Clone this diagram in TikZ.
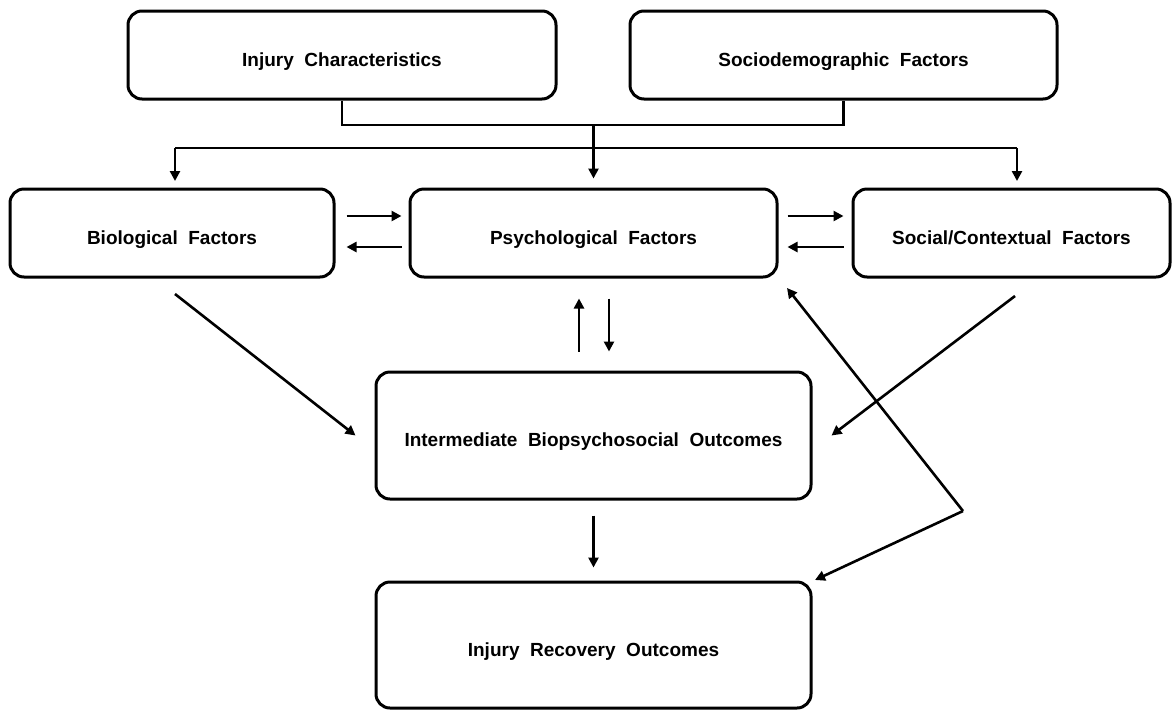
\documentclass[tikz,border=0pt]{standalone}
\usepackage{fontspec}
\setmainfont{Liberation Sans}[WordSpace=2]
\usetikzlibrary{arrows.meta}
\begin{document}
\begin{tikzpicture}[x=1pt,y=-1pt,
  box/.style={draw,line width=3pt,rounded corners=14pt,inner sep=0pt,
    text height=22.6pt,text depth=0pt,
    font=\fontsize{19}{22}\selectfont\bfseries},
  conn/.style={line width=2.6pt},
  arr/.style={conn,-{Triangle[length=10pt,width=10pt]}}]
\useasboundingbox (0,0) rectangle (1172,710);

% factor boxes
\node[box,minimum width=428pt,minimum height=88pt] (ic) at (342,55) {Injury Characteristics};
\node[box,minimum width=427pt,minimum height=88pt] (sf) at (843.5,55) {Sociodemographic Factors};
\node[box,minimum width=324pt,minimum height=88pt] (bio) at (172,233) {Biological Factors};
\node[box,minimum width=367pt,minimum height=88pt] (psy) at (593.5,233) {Psychological Factors};
\node[box,minimum width=317pt,minimum height=88pt] (soc) at (1011.5,233) {Social/Contextual Factors};
\node[box,minimum width=435pt,minimum height=127pt] (inter) at (593.5,435.5) {Intermediate Biopsychosocial Outcomes};
\node[box,minimum width=435pt,minimum height=126pt] (rec) at (593.5,645) {Injury Recovery Outcomes};

% junction points
\coordinate (join) at (593.5,125);
\coordinate (splitL) at (175,148);
\coordinate (splitR) at (1017,148);
\coordinate (fb) at (963,511);

% merge of the top two boxes and the split to the three factors
\draw[conn] (ic.south) |- (join) -| (sf.south);
\draw[arr] (join) -- ([yshift=9pt]psy.north);
\draw[conn] (splitL) -- (splitR);
\draw[arr] (splitL) -- (175,181);
\draw[arr] (splitR) -- (1017,181);

% horizontal exchanges between factors
\draw[arr] ([xshift=11pt,yshift=17pt]bio.east) -- ([xshift=-7pt,yshift=17pt]psy.west);
\draw[arr] ([xshift=-7pt,yshift=-14pt]psy.west) -- ([xshift=11pt,yshift=-14pt]bio.east);
\draw[arr] ([xshift=9pt,yshift=17pt]psy.east) -- ([xshift=-8pt,yshift=17pt]soc.west);
\draw[arr] ([xshift=-8pt,yshift=-14pt]soc.west) -- ([xshift=9pt,yshift=-14pt]psy.east);

% psychological <-> intermediate
\draw[arr] ([xshift=-14.5pt,yshift=19pt]inter.north) -- ([xshift=-14.5pt,yshift=-20pt]psy.south);
\draw[arr] ([xshift=15.5pt,yshift=-20pt]psy.south) -- ([xshift=15.5pt,yshift=19pt]inter.north);

% diagonal influences on intermediate outcomes
\draw[arr] (175,294) -- ([xshift=-19pt]inter.west);
\draw[arr] (1015,296) -- ([xshift=19pt]inter.east);

% intermediate -> recovery
\draw[arr] ([yshift=-15pt]inter.south) -- ([yshift=13pt]rec.north);

% feedback from recovery
\draw[arr] (fb) -- (787,288);
\draw[arr] (fb) -- (815,580);
\end{tikzpicture}
\end{document}
